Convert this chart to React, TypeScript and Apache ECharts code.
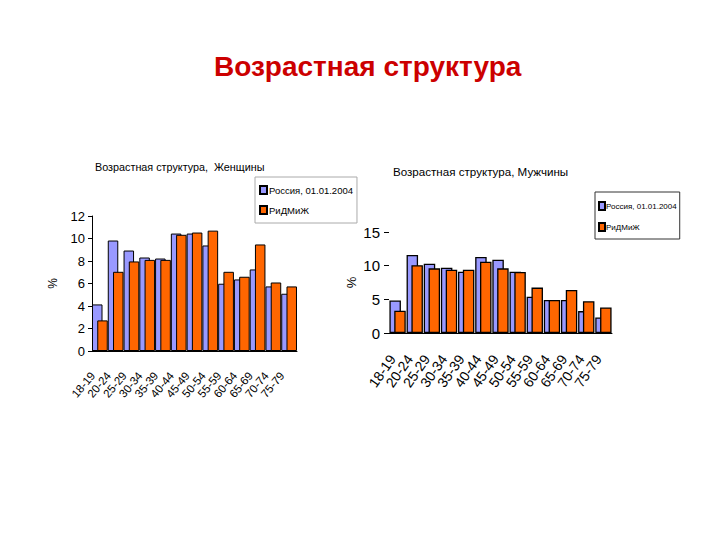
import React, { useEffect, useRef } from "react";
import * as echarts from "echarts";

const categories = ["18-19", "20-24", "25-29", "30-34", "35-39", "40-44", "45-49", "50-54", "55-59", "60-64", "65-69", "70-74", "75-79"];
const seriesNames = ["Россия, 01.01.2004", "РиДМиЖ"];
const womenRussia = [4.14, 9.82, 8.93, 8.31, 8.22, 10.44, 10.44, 9.38, 5.98, 6.36, 7.25, 5.74, 5.09];
const womenRidmizh = [2.72, 7.04, 7.96, 8.1, 8.1, 10.33, 10.53, 10.7, 7.04, 6.6, 9.47, 6.09, 5.74];
const menRussia = [4.82, 11.6, 10.28, 9.7, 9.1, 11.3, 10.87, 9.1, 5.4, 4.9, 4.9, 3.25, 2.3];
const menRidmizh = [3.3, 10.08, 9.6, 9.4, 9.4, 10.6, 9.6, 9.05, 6.74, 4.9, 6.4, 4.72, 3.8];
const womenAxis = { min: 0, max: 12, interval: 2 };
const menAxis = { min: 0, max: 15, interval: 5 };

const mainTitle = "Возрастная структура";
const womenTitle = "Возрастная структура,  Женщины";
const menTitle = "Возрастная структура, Мужчины";

const BLUE = "#9999ff";
const ORANGE = "#ff6600";
const SANS = "'Liberation Sans', Arial, sans-serif";

export default function App() {
  const ref = useRef<HTMLDivElement>(null);
  useEffect(() => {
    if (!ref.current) return;
    const chart = echarts.init(ref.current, null, { renderer: "svg" });
    const barStyle = (c: string, w: number) => ({ color: c, borderColor: "#000", borderWidth: w });
    chart.setOption({
      animation: false,
      backgroundColor: "#fff",
      title: [
        {
          text: mainTitle,
          left: 214,
          top: 52,
          padding: 0,
          textStyle: { color: "#cc0000", fontSize: 28, fontWeight: "bold", fontFamily: SANS },
        },
        {
          text: womenTitle,
          left: 95,
          top: 161,
          padding: 0,
          textStyle: { color: "#000", fontSize: 10.8, fontWeight: "normal", fontFamily: SANS },
        },
        {
          text: menTitle,
          left: 393,
          top: 165,
          padding: 0,
          textStyle: { color: "#000", fontSize: 11.6, fontWeight: "normal", fontFamily: SANS },
        },
      ],
      legend: [
        {
          data: seriesNames,
          orient: "vertical",
          left: 255,
          top: 177,
          padding: [8, 4, 8, 4],
          itemGap: 10,
          itemWidth: 7,
          itemHeight: 8,
          icon: "rect",
          borderColor: "#aaa",
          borderWidth: 1,
          textStyle: { fontSize: 9.5, fontFamily: SANS, color: "#000", padding: [0, 0, 0, -3] },
        },
        {
          data: seriesNames,
          orient: "vertical",
          left: 595,
          top: 192,
          padding: [9, 3, 7, 3],
          itemGap: 11,
          itemWidth: 6,
          itemHeight: 8,
          icon: "rect",
          borderColor: "#333",
          borderWidth: 1,
          textStyle: { fontSize: 8, fontFamily: SANS, color: "#000", padding: [0, 0, 0, -4] },
        },
      ],
      grid: [
        { left: 92, top: 216, width: 205, height: 135 },
        { left: 389, top: 232, width: 223, height: 101 },
      ],
      xAxis: [
        {
          type: "category",
          gridIndex: 0,
          data: categories,
          axisLine: { lineStyle: { color: "#000", width: 1 } },
          axisTick: { show: false },
          axisLabel: { rotate: 50, interval: 0, fontSize: 11.5, fontFamily: SANS, color: "#000", margin: 14, padding: [0, 11, 0, 0] },
        },
        {
          type: "category",
          gridIndex: 1,
          data: categories,
          axisLine: { lineStyle: { color: "#000", width: 1 } },
          axisTick: { show: false },
          axisLabel: { rotate: 55, interval: 0, fontSize: 14, fontFamily: SANS, color: "#000", margin: 16, padding: [0, 9, 0, 0] },
        },
      ],
      yAxis: [
        {
          type: "value",
          gridIndex: 0,
          ...womenAxis,
          name: "%",
          nameLocation: "middle",
          nameGap: 33,
          nameRotate: 90,
          nameTextStyle: { fontSize: 12, fontFamily: SANS, color: "#000" },
          axisLine: { show: true, lineStyle: { color: "#000" } },
          axisTick: { show: true, inside: false, length: 4, lineStyle: { color: "#000" } },
          splitLine: { show: false },
          axisLabel: { fontSize: 13, fontFamily: SANS, color: "#000", margin: 7 },
        },
        {
          type: "value",
          gridIndex: 1,
          ...menAxis,
          name: "%",
          nameLocation: "middle",
          nameGap: 31,
          nameRotate: 90,
          nameTextStyle: { fontSize: 13, fontFamily: SANS, color: "#000" },
          axisLine: { show: false },
          axisTick: { show: true, inside: false, length: 5, lineStyle: { color: "#000" } },
          splitLine: { show: false },
          axisLabel: { fontSize: 15, fontFamily: SANS, color: "#000", margin: 9 },
        },
      ],
      series: [
        { name: seriesNames[0], type: "bar", xAxisIndex: 0, yAxisIndex: 0, data: womenRussia, barWidth: 10.5, barGap: "-50%", itemStyle: barStyle(BLUE, 1) },
        { name: seriesNames[1], type: "bar", xAxisIndex: 0, yAxisIndex: 0, data: womenRidmizh, barWidth: 10.5, barGap: "-50%", itemStyle: barStyle(ORANGE, 1) },
        { name: seriesNames[0], type: "bar", xAxisIndex: 1, yAxisIndex: 1, data: menRussia, barWidth: 11.5, barGap: "-58%", itemStyle: barStyle(BLUE, 1.3) },
        { name: seriesNames[1], type: "bar", xAxisIndex: 1, yAxisIndex: 1, data: menRidmizh, barWidth: 11.5, barGap: "-58%", itemStyle: barStyle(ORANGE, 1.3) },
      ],
    });
    return () => chart.dispose();
  }, []);
  return <div ref={ref} style={{ position: "absolute", left: 0, top: 0, width: 720, height: 540, background: "#fff" }} />;
}
